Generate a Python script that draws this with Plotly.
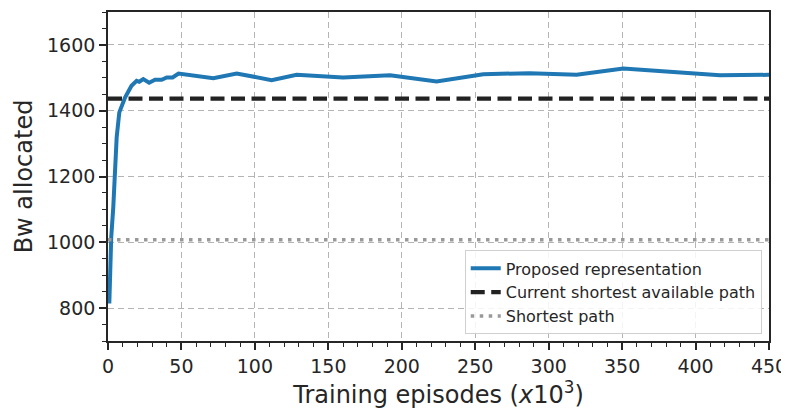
import plotly.graph_objects as go

episodes = [0.9, 2.2, 3.6, 5.9, 7.7, 11.6, 16, 19.5, 21.3, 24, 28, 32, 36.5, 40, 44, 48,
            71.7, 87.6, 111.4, 128.4, 160, 192, 223.7, 255.5, 287, 319, 350.8, 382.6, 416.6, 450]
bw_proposed = [814, 1016, 1107, 1319, 1395, 1440, 1476, 1491, 1488, 1496, 1485, 1494, 1494, 1501, 1501, 1513,
               1499, 1513, 1493, 1509, 1501, 1508, 1489, 1511, 1514, 1509, 1528, 1519, 1508, 1509]
current_shortest = 1437
shortest = 1008
x_range = [0, 450]

txt = "#262626"
fig = go.Figure()
fig.add_trace(go.Scatter(x=episodes, y=bw_proposed, mode="lines", name="Proposed representation",
                         line=dict(color="#1f77b4", width=4)))
fig.add_trace(go.Scatter(x=x_range, y=[current_shortest] * 2, mode="lines", name="Current shortest available path",
                         line=dict(color="#222222", width=4.2, dash="14px,6.5px")))
fig.add_trace(go.Scatter(x=x_range, y=[shortest] * 2, mode="lines", name="Shortest path",
                         line=dict(color="#999999", width=3.5, dash="3.5px,5.5px")))

axis_common = dict(showline=True, linecolor=txt, linewidth=1.7, mirror=True,
                   ticks="outside", ticklen=7, tickwidth=1.5, tickcolor=txt,
                   showgrid=True, gridcolor="#b4b4b4", griddash="6px,4px", gridwidth=1.1,
                   zeroline=False, tickfont=dict(size=19, color=txt))
fig.update_xaxes(range=x_range, dtick=50, tick0=0,
                 minor=dict(ticks="outside", dtick=10, ticklen=4, tickwidth=1.2, tickcolor=txt, showgrid=False),
                 title=dict(text="Training episodes (<i>x</i>10<sup>3</sup>)", font=dict(size=24, color=txt), standoff=8),
                 **axis_common)
fig.update_yaxes(range=[700, 1700], dtick=200, tick0=0,
                 minor=dict(ticks="outside", dtick=50, ticklen=4, tickwidth=1.2, tickcolor=txt, showgrid=False),
                 title=dict(text="Bw allocated", font=dict(size=24, color=txt), standoff=8),
                 **axis_common)
fig.update_layout(width=789, height=409, margin=dict(l=100, r=28, t=4, b=76, autoexpand=False),
                  plot_bgcolor="white", paper_bgcolor="white",
                  font=dict(family="DejaVu Sans", color=txt),
                  legend=dict(x=0.989, y=0.02, xanchor="right", yanchor="bottom",
                              bgcolor="rgba(255,255,255,0.85)", bordercolor="#d0d0d0", borderwidth=1,
                              font=dict(size=16, color=txt), tracegroupgap=0, itemwidth=30))
fig.write_html("out.html")
